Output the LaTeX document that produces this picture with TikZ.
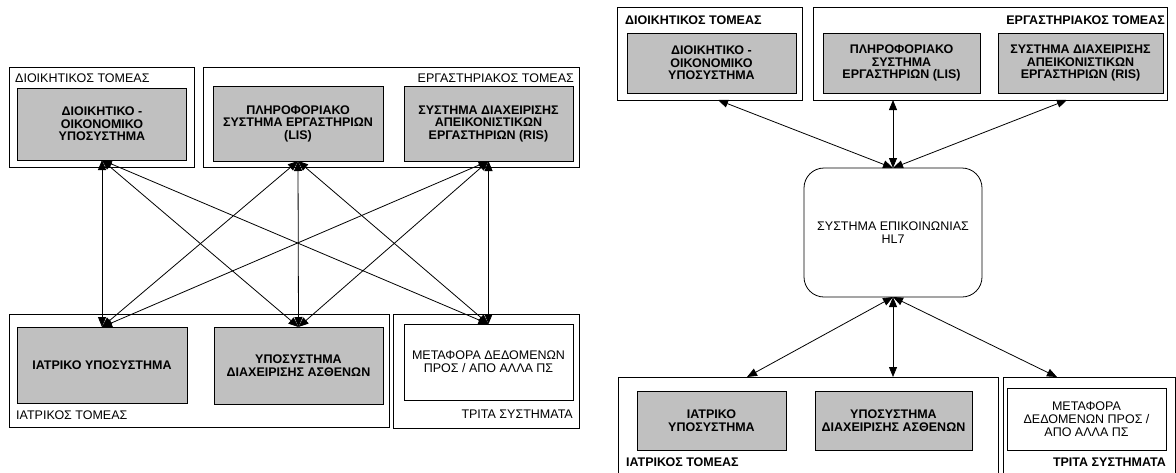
\documentclass[tikz,border=0pt]{standalone}
\usepackage{fontspec}
\setmainfont{Liberation Sans}
\usetikzlibrary{arrows.meta,calc}
\definecolor{boxgray}{HTML}{C0C0C0}
\tikzset{
  outerbox/.style={draw=black, line width=0.9pt, fill=white, inner sep=0pt, outer sep=0pt},
  graybox/.style={draw=black, line width=0.8pt, fill=boxgray, inner sep=2pt, outer sep=0pt, align=center,
     font=\bfseries\fontsize{12.5}{12.5}\selectfont},
  whitebox/.style={draw=black, line width=0.8pt, fill=white, inner sep=2pt, outer sep=0pt, align=center,
     font=\fontsize{12.5}{13}\selectfont},
  seclab/.style={inner sep=0pt, font=\fontsize{12.5}{12.5}\selectfont},
  seclabb/.style={inner sep=0pt, font=\bfseries\fontsize{12.5}{12.5}\selectfont},
  link/.style={line width=0.8pt, {Triangle[length=10pt,width=8pt]}-{Triangle[length=10pt,width=8pt]}},
  hlbox/.style={draw=black, line width=0.8pt, fill=white, rounded corners=20pt, align=center,
     font=\fontsize{12.5}{13.5}\selectfont, inner sep=0pt, outer sep=0pt}
}
\begin{document}
\begin{tikzpicture}[x=1pt,y=-1pt]
\useasboundingbox[fill=white] (0,0) rectangle (1176,472);
% ---------------- left diagram ----------------
\node[outerbox, minimum width=185pt, minimum height=100pt] (admO) at (101.5,117) {};
\node[outerbox, minimum width=376pt, minimum height=100pt] (labO) at (391,117) {};
\node[outerbox, minimum width=380pt, minimum height=113pt] (medO) at (199,370.5) {};
\node[outerbox, minimum width=186pt, minimum height=114pt] (thirdO) at (486,371) {};

\node[seclab, anchor=west] (admL) at (15,78) {ΔΙΟΙΚΗΤΙΚΟΣ ΤΟΜΕΑΣ};
\node[seclab, anchor=east] (labL) at (574,78) {ΕΡΓΑΣΤΗΡΙΑΚΟΣ ΤΟΜΕΑΣ};
\node[seclab, anchor=west] (medL) at (16,415) {ΙΑΤΡΙΚΟΣ ΤΟΜΕΑΣ};
\node[seclab, anchor=east] (thirdL) at (573,414) {ΤΡΙΤΑ ΣΥΣΤΗΜΑΤΑ};

\node[graybox, minimum width=169pt, minimum height=72pt] (adm) at (102,124) {ΔΙΟΙΚΗΤΙΚΟ -\\ΟΙΚΟΝΟΜΙΚΟ\\ΥΠΟΣΥΣΤΗΜΑ};
\node[graybox, minimum width=170pt, minimum height=75pt] (lis) at (298,123.5) {ΠΛΗΡΟΦΟΡΙΑΚΟ\\ΣΥΣΤΗΜΑ ΕΡΓΑΣΤΗΡΙΩΝ\\(LIS)};
\node[graybox, minimum width=169pt, minimum height=75pt] (ris) at (488.5,123.5) {ΣΥΣΤΗΜΑ ΔΙΑΧΕΙΡΙΣΗΣ\\ΑΠΕΙΚΟΝΙΣΤΙΚΩΝ\\ΕΡΓΑΣΤΗΡΙΩΝ (RIS)};
\node[graybox, minimum width=170pt, minimum height=76pt] (med) at (102,365) {ΙΑΤΡΙΚΟ ΥΠΟΣΥΣΤΗΜΑ};
\node[graybox, minimum width=169pt, minimum height=77pt] (asth) at (298.5,365.5) {ΥΠΟΣΥΣΤΗΜΑ\\ΔΙΑΧΕΙΡΙΣΗΣ ΑΣΘΕΝΩΝ};
\node[whitebox, minimum width=169pt, minimum height=76pt] (meta) at (488.5,362) {ΜΕΤΑΦΟΡΑ ΔΕΔΟΜΕΝΩΝ\\ΠΡΟΣ / ΑΠΟ ΑΛΛΑ ΠΣ};

\foreach \t in {adm,lis,ris}{
  \foreach \b in {med,asth,meta}{
    \draw[link] (\t.south) -- (\b.north);
  }
}
% ---------------- right diagram ----------------
\node[outerbox, minimum width=185pt, minimum height=93pt] (admRO) at (709.5,53.5) {};
\node[outerbox, minimum width=354pt, minimum height=93pt] (labRO) at (990,53.5) {};
\node[outerbox, minimum width=380pt, minimum height=98pt] (medRO) at (808,426) {};
\node[outerbox, minimum width=172pt, minimum height=98pt] (thirdRO) at (1089,426) {};

\node[seclabb, anchor=west] (admRL) at (625,20) {ΔΙΟΙΚΗΤΙΚΟΣ ΤΟΜΕΑΣ};
\node[seclabb, anchor=east] (labRL) at (1165,20) {ΕΡΓΑΣΤΗΡΙΑΚΟΣ ΤΟΜΕΑΣ};
\node[seclabb, anchor=west] (medRL) at (626,462) {ΙΑΤΡΙΚΟΣ ΤΟΜΕΑΣ};
\node[seclabb, anchor=east] (thirdRL) at (1166,462) {ΤΡΙΤΑ ΣΥΣΤΗΜΑΤΑ};

\node[graybox, minimum width=169pt, minimum height=60pt] (admR) at (711.5,63) {ΔΙΟΙΚΗΤΙΚΟ -\\ΟΙΚΟΝΟΜΙΚΟ\\ΥΠΟΣΥΣΤΗΜΑ};
\node[graybox, minimum width=157pt, minimum height=60pt] (lisR) at (901.5,63) {ΠΛΗΡΟΦΟΡΙΑΚΟ\\ΣΥΣΤΗΜΑ\\ΕΡΓΑΣΤΗΡΙΩΝ (LIS)};
\node[graybox, minimum width=165pt, minimum height=60pt] (risR) at (1080.5,63) {ΣΥΣΤΗΜΑ ΔΙΑΧΕΙΡΙΣΗΣ\\ΑΠΕΙΚΟΝΙΣΤΙΚΩΝ\\ΕΡΓΑΣΤΗΡΙΩΝ (RIS)};
\node[hlbox, minimum width=178pt, minimum height=129pt] (hl7) at (893,232.5) {ΣΥΣΤΗΜΑ ΕΠΙΚΟΙΝΩΝΙΑΣ\\HL7};
\node[graybox, minimum width=149pt, minimum height=59pt] (medR) at (711.5,420.5) {ΙΑΤΡΙΚΟ\\ΥΠΟΣΥΣΤΗΜΑ};
\node[graybox, minimum width=157pt, minimum height=59pt] (asthR) at (893.5,420.5) {ΥΠΟΣΥΣΤΗΜΑ\\ΔΙΑΧΕΙΡΙΣΗΣ ΑΣΘΕΝΩΝ};
\node[whitebox, minimum width=159pt, minimum height=62pt] (metaR) at (1086.5,419) {ΜΕΤΑΦΟΡΑ\\ΔΕΔΟΜΕΝΩΝ ΠΡΟΣ /\\ΑΠΟ ΑΛΛΑ ΠΣ};

\coordinate (pAdm) at ([xshift=8.5pt]admRO.south);
\coordinate (pLab) at (labRO.south -| hl7.north);
\coordinate (pRis) at (1067,100);
\coordinate (pMed) at (747,377);
\coordinate (pAsth) at (medRO.north -| hl7.south);
\coordinate (pThird) at (1057,377);

\draw[link] (hl7.north) -- (pAdm);
\draw[link] (hl7.north) -- (pLab);
\draw[link] (hl7.north) -- (pRis);
\draw[link] (hl7.south) -- (pMed);
\draw[link] (hl7.south) -- (pAsth);
\draw[link] (hl7.south) -- (pThird);
\end{tikzpicture}
\end{document}
